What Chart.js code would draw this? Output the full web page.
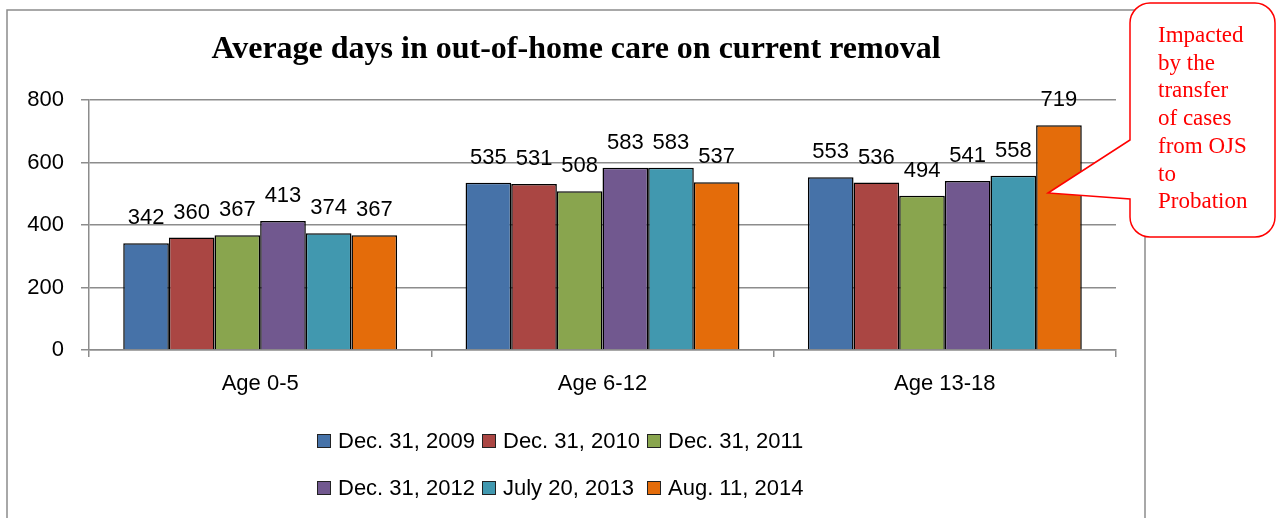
<!DOCTYPE html>
<html><head><meta charset="utf-8">
<script src="https://cdn.jsdelivr.net/npm/chart.js@4"></script>
<style>html,body{margin:0;padding:0;background:#fff;}canvas{display:block;}</style>
</head><body>
<canvas id="c" width="1276" height="518"></canvas>
<script>
const categories = ['Age 0-5', 'Age 6-12', 'Age 13-18'];
const seriesLabels = ['Dec. 31, 2009', 'Dec. 31, 2010', 'Dec. 31, 2011', 'Dec. 31, 2012', 'July 20, 2013', 'Aug. 11, 2014'];
const dec2009 = [342, 535, 553];
const dec2010 = [360, 531, 536];
const dec2011 = [367, 508, 494];
const dec2012 = [413, 583, 541];
const jul2013 = [374, 583, 558];
const aug2014 = [367, 537, 719];
const yTicks = [0, 200, 400, 600, 800];
const titleText = 'Average days in out-of-home care on current removal';
const calloutLines = ['Impacted', 'by the', 'transfer', 'of cases', 'from OJS', 'to', 'Probation'];

const colors = ['#4672A8', '#AA4643', '#89A54E', '#71588F', '#4198AF', '#E46C0A'];
const seriesValues = [dec2009, dec2010, dec2011, dec2012, jul2013, aug2014];
const SANS = '"Liberation Sans", Arial, sans-serif';
const SERIF = '"Liberation Serif", "Times New Roman", serif';

const decorPlugin = {
  id: 'decor',
  beforeDraw(chart) {
    const ctx = chart.ctx;
    ctx.save();
    ctx.fillStyle = '#fff';
    ctx.fillRect(0, 0, chart.width, chart.height);
    ctx.strokeStyle = '#8c8c8c';
    ctx.lineWidth = 1.5;
    ctx.beginPath();
    ctx.moveTo(7, 530); ctx.lineTo(7, 10); ctx.lineTo(1145, 10); ctx.lineTo(1145, 530);
    ctx.stroke();
    ctx.fillStyle = '#000';
    ctx.font = 'bold 32px ' + SERIF;
    ctx.textAlign = 'center';
    ctx.textBaseline = 'middle';
    ctx.fillText(titleText, 576, 50);
    ctx.restore();
  },
  afterDatasetsDraw(chart) {
    const ctx = chart.ctx;
    ctx.save();
    ctx.fillStyle = '#000';
    ctx.font = '22px ' + SANS;
    ctx.textAlign = 'center';
    ctx.textBaseline = 'middle';
    chart.data.datasets.forEach((ds, i) => {
      const meta = chart.getDatasetMeta(i);
      meta.data.forEach((el, j) => {
        ctx.fillText(String(ds.data[j]), el.x, el.y - 25);
      });
    });
    ctx.restore();
  },
  afterDraw(chart) {
    const ctx = chart.ctx;
    ctx.save();
    // legend (3 columns x 2 rows)
    const colX = [317, 482, 647];
    const rowY = [441, 488];
    ctx.font = '22px ' + SANS;
    ctx.textBaseline = 'middle';
    ctx.textAlign = 'left';
    chart.data.datasets.forEach((ds, i) => {
      const x = colX[i % 3], y = rowY[Math.floor(i / 3)];
      ctx.fillStyle = ds.backgroundColor;
      ctx.fillRect(x, y - 7, 14, 14);
      ctx.strokeStyle = '#222';
      ctx.lineWidth = 1;
      ctx.strokeRect(x + 0.5, y - 6.5, 13, 13);
      ctx.fillStyle = '#000';
      ctx.fillText(ds.label, x + 21, y + 1);
    });
    // callout
    const L = 1130, T = 3, R = 1275, B = 237, r = 20;
    const tip = [1048, 193];
    ctx.beginPath();
    ctx.moveTo(L + r, T);
    ctx.lineTo(R - r, T);
    ctx.arcTo(R, T, R, T + r, r);
    ctx.lineTo(R, B - r);
    ctx.arcTo(R, B, R - r, B, r);
    ctx.lineTo(L + r, B);
    ctx.arcTo(L, B, L, B - r, r);
    ctx.lineTo(L, 199);
    ctx.lineTo(tip[0], tip[1]);
    ctx.lineTo(L, 140);
    ctx.lineTo(L, T + r);
    ctx.arcTo(L, T, L + r, T, r);
    ctx.closePath();
    ctx.fillStyle = '#fff';
    ctx.fill();
    ctx.strokeStyle = '#ff0000';
    ctx.lineWidth = 1.5;
    ctx.stroke();
    ctx.fillStyle = '#ff0000';
    ctx.font = '23px ' + SERIF;
    ctx.textAlign = 'left';
    ctx.textBaseline = 'middle';
    calloutLines.forEach((t, i) => ctx.fillText(t, 1158, 36 + i * 27.7));
    ctx.restore();
  }
};

new Chart(document.getElementById('c'), {
  type: 'bar',
  data: {
    labels: categories,
    datasets: seriesLabels.map((lab, i) => ({
      label: lab,
      data: seriesValues[i],
      backgroundColor: colors[i],
      borderColor: '#000',
      borderWidth: 1.5,
      categoryPercentage: 0.8,
      barPercentage: 1.0
    }))
  },
  options: {
    responsive: false,
    devicePixelRatio: 1,
    animation: false,
    layout: { padding: { left: 0, right: 160, top: 100, bottom: 108 } },
    plugins: { legend: { display: false }, title: { display: false }, tooltip: { enabled: false } },
    scales: {
      x: {
        afterFit: s => { s.height = 60; },
        grid: { display: true, drawOnChartArea: false, offset: true, tickLength: 7, color: '#8c8c8c', lineWidth: 1.5 },
        border: { color: '#8c8c8c', width: 1.5 },
        ticks: { color: '#000', font: { family: SANS, size: 22 }, padding: 14 }
      },
      y: {
        min: 0, max: 800,
        afterFit: s => { s.width = 89; },
        afterBuildTicks: s => { s.ticks = yTicks.map(v => ({ value: v })); },
        grid: { color: '#8c8c8c', lineWidth: 1.5, tickLength: 8 },
        border: { color: '#8c8c8c', width: 1.5 },
        ticks: { color: '#000', font: { family: SANS, size: 22 }, padding: 17 }
      }
    }
  },
  plugins: [decorPlugin]
});
</script>
</body></html>
